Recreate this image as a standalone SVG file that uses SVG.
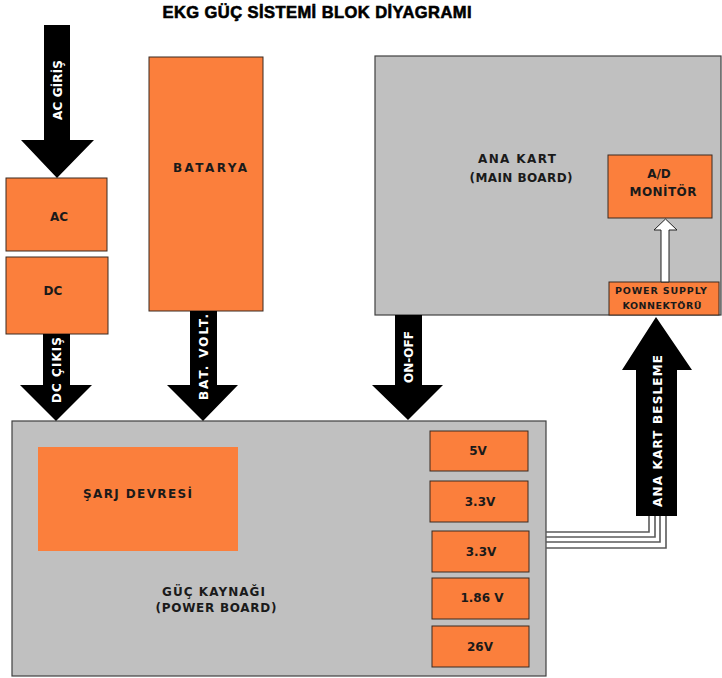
<svg xmlns="http://www.w3.org/2000/svg" width="722" height="678" viewBox="0 0 722 678">
<style>
text{font-family:"DejaVu Sans","Liberation Sans",Verdana,sans-serif;font-weight:bold;fill:#1a1a1a}
.title{font-family:"Liberation Sans",Arial,sans-serif;font-size:16.5px;fill:#000;stroke:#000;stroke-width:0.6}
.o{fill:#FB7F3C;stroke:#3a2a20;stroke-width:1}
.g{fill:#C0C0C0;stroke:#404040;stroke-width:1.2}
.a{fill:#000}
.w{fill:#fff;font-size:12px}
.t{font-size:12px}
.s{font-size:9.5px}
.wire{fill:none;stroke:#5a5a5a;stroke-width:1.6}
</style>
<rect width="722" height="678" fill="#fff"/>
<text class="title" x="317" y="17.5" text-anchor="middle" textLength="309" lengthAdjust="spacing">EKG GÜÇ SİSTEMİ BLOK DİYAGRAMI</text>

<g id="mainboard">
<rect class="g" x="375" y="56" width="346" height="259"/>
<text class="t" x="517" y="163" text-anchor="middle" textLength="78" lengthAdjust="spacing">ANA KART</text>
<text class="t" x="521" y="182" text-anchor="middle" textLength="103" lengthAdjust="spacing">(MAIN BOARD)</text>
</g>
<g id="ad_monitor">
<rect class="o" x="608" y="155" width="104" height="63"/>
<text class="t" x="659" y="178" text-anchor="middle">A/D</text>
<text class="t" x="663" y="196" text-anchor="middle" textLength="67" lengthAdjust="spacing">MONİTÖR</text>
</g>
<g id="ps_connector">
<rect class="o" x="609" y="282" width="110" height="33"/>
<text class="s" x="661" y="294" text-anchor="middle" textLength="92" lengthAdjust="spacing">POWER SUPPLY</text>
<text class="s" x="662" y="308.5" text-anchor="middle" textLength="79" lengthAdjust="spacing">KONNEKTÖRÜ</text>
</g>

<g id="ac">
<rect class="o" x="6" y="178" width="101" height="73"/>
<text class="t" x="59" y="221" text-anchor="middle">AC</text>
</g>
<g id="dc">
<rect class="o" x="6" y="257" width="102" height="77"/>
<text class="t" x="53" y="295" text-anchor="middle">DC</text>
</g>
<g id="batarya">
<rect class="o" x="149" y="57" width="114" height="254"/>
<text class="t" x="210" y="172" text-anchor="middle" textLength="74" lengthAdjust="spacing">BATARYA</text>
</g>

<g id="powerboard">
<rect class="g" x="12" y="421" width="534" height="255"/>
<text class="t" x="213.5" y="596" text-anchor="middle" textLength="103" lengthAdjust="spacing">GÜÇ KAYNAĞI</text>
<text class="t" x="216" y="612" text-anchor="middle" textLength="121" lengthAdjust="spacing">(POWER BOARD)</text>
</g>
<g id="sarj">
<rect x="38" y="447" width="200" height="104" fill="#FB7F3C"/>
<text class="t" x="137.5" y="498" text-anchor="middle" textLength="109" lengthAdjust="spacing">ŞARJ DEVRESİ</text>
</g>
<g id="v5">
<rect class="o" x="430" y="431" width="98" height="40"/>
<text class="t" x="478" y="455" text-anchor="middle">5V</text>
</g>
<g id="v33a">
<rect class="o" x="430" y="481" width="98" height="41"/>
<text class="t" x="480" y="506" text-anchor="middle">3.3V</text>
</g>
<g id="v33b">
<rect class="o" x="432" y="531" width="97" height="41"/>
<text class="t" x="481" y="556" text-anchor="middle">3.3V</text>
</g>
<g id="v186">
<rect class="o" x="432" y="578" width="97" height="41"/>
<text class="t" x="482" y="602" text-anchor="middle">1.86 V</text>
</g>
<g id="v26">
<rect class="o" x="432" y="626" width="97" height="41"/>
<text class="t" x="480" y="651" text-anchor="middle">26V</text>
</g>

<g id="connectors">
<polygon class="a" points="44,25 70,25 70,140 94,140 57,178 21,140 44,140"/>
<polygon class="a" points="43,334 70,334 70,385 92,385 56,421 20,385 43,385"/>
<polygon class="a" points="190,311 217,311 217,385 238,385 203,421 167,385 190,385"/>
<polygon class="a" points="395,315 422,315 422,385 443,385 408,420 372,385 395,385"/>
<polygon class="a" points="636,516 677,516 677,370 692,370 656,317 622,370 636,370"/>
<polygon points="661,282 669,282 669,230 677,230 665.5,219 654,230 661,230" fill="#fff" stroke="#222" stroke-width="1"/>
<polyline class="wire" points="546,532 649,532 649,516"/>
<polyline class="wire" points="546,537 655,537 655,516"/>
<polyline class="wire" points="546,542 660,542 660,516"/>
<polyline class="wire" points="546,548 666,548 666,516"/>
<text class="w" transform="translate(57,90) rotate(-90)" x="0" y="4.5" text-anchor="middle" textLength="60" lengthAdjust="spacing">AC GİRİŞ</text>
<text class="w" transform="translate(56,370) rotate(-90)" x="0" y="4.5" text-anchor="middle" textLength="66" lengthAdjust="spacing">DC ÇIKIŞ</text>
<text class="w" transform="translate(203,357) rotate(-90)" x="0" y="4.5" text-anchor="middle" textLength="86" lengthAdjust="spacing">BAT. VOLT.</text>
<text class="w" transform="translate(408,357) rotate(-90)" x="0" y="4.5" text-anchor="middle" textLength="52" lengthAdjust="spacing">ON-OFF</text>
<text class="w" transform="translate(657,431) rotate(-90)" x="0" y="4.5" text-anchor="middle" textLength="152" lengthAdjust="spacing">ANA KART BESLEME</text>
</g>
</svg>
